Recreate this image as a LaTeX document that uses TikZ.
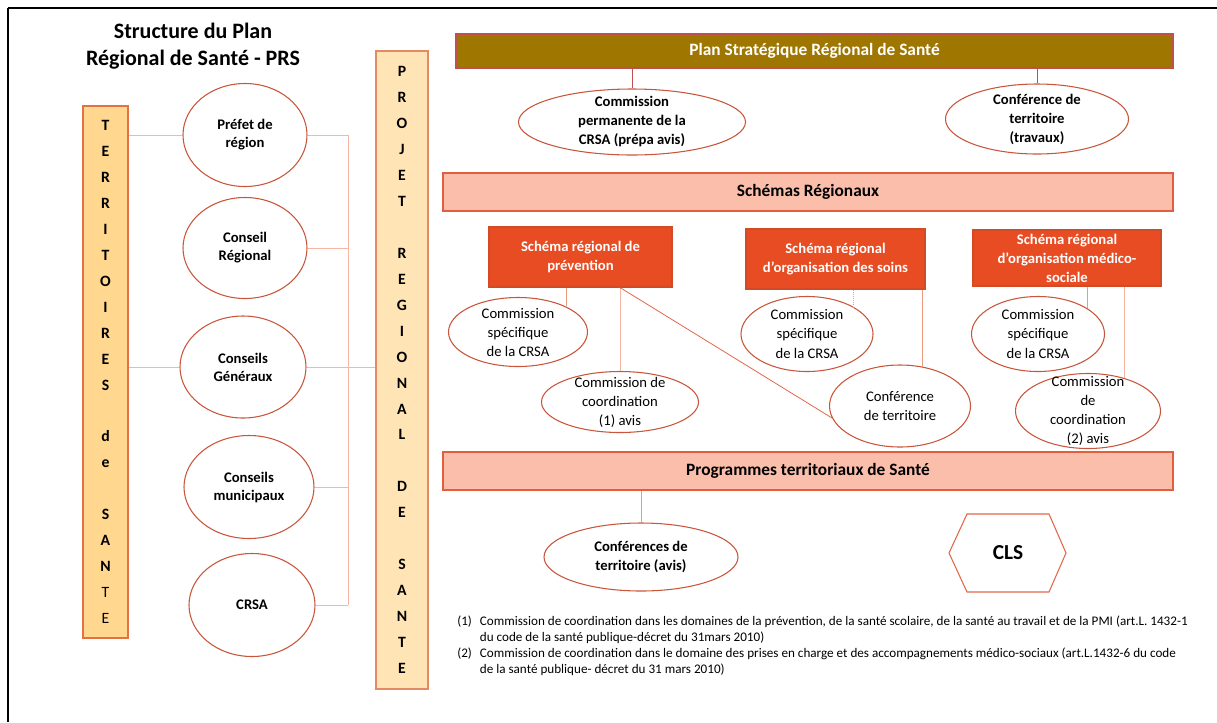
\documentclass[tikz,border=0pt]{standalone}
\usepackage{fontspec}
\setmainfont{Carlito}
\usepackage{tikz}
\usetikzlibrary{calc, shapes.geometric}

\definecolor{planfill}{HTML}{9F7700}
\definecolor{planedge}{HTML}{C0504D}
\definecolor{salmon}{HTML}{FBBEAB}
\definecolor{salmonedge}{HTML}{E0603E}
\definecolor{schemafill}{HTML}{E84C22}
\definecolor{schemaedge}{HTML}{D34A26}
\definecolor{ovaledge}{HTML}{C9553A}
\definecolor{linkpale}{HTML}{F5B6A6}
\definecolor{linksoft}{HTML}{EC9A80}
\definecolor{linkred}{HTML}{E0684A}
\definecolor{terrfill}{HTML}{FFD78F}
\definecolor{terredge}{HTML}{E0733F}
\definecolor{projfill}{HTML}{FFE5B6}
\definecolor{projedge}{HTML}{E38A62}

\begin{document}
\begin{tikzpicture}[x=0.75pt, y=-0.75pt,
    every node/.style={align=center, inner sep=2pt},
    txl/.style={font=\fontsize{11}{13.5}\selectfont\bfseries},
    txr/.style={font=\fontsize{11}{14.25}\selectfont\bfseries},
    txn/.style={font=\fontsize{11}{14.25}\selectfont},
    txb/.style={font=\fontsize{13}{15.5}\selectfont\bfseries},
    oval/.style 2 args={ellipse, draw=ovaledge, line width=0.8pt, inner sep=-8pt,
      minimum width=#1, minimum height=#2},
    column/.style={line width=1pt, font=\fontsize{11.8}{19.45}\selectfont\bfseries},
    band/.style={draw=salmonedge, line width=1pt, fill=salmon, txb,
      minimum width=547.5pt, minimum height=28.5pt},
    schema/.style={draw=schemaedge, line width=0.8pt, fill=schemafill, text=white, txr,
      inner sep=1pt, minimum height=45pt},
    link/.style={draw=linkpale, line width=0.6pt},
    hexline/.style={draw=linkred, line width=0.8pt},
  ]
  \useasboundingbox (0,0) rectangle (1217,722);
  \draw[line width=1pt] (1217,8) -- (8,8);
  \draw[line width=2pt] (8,7.5) -- (8,722);

  \node[font=\fontsize{16.5}{20.25}\selectfont\bfseries] (title) at (193,46)
    {Structure du Plan\\Régional de Santé - PRS};

  % colonnes
  \node[column, draw=terredge, fill=terrfill, minimum width=33.75pt, minimum height=399pt]
    (terr) at (105.5,372)
    {T\\E\\R\\R\\I\\T\\O\\I\\R\\E\\S\\~\\d\\e\\~\\S\\A\\N\\{\mdseries T}\\{\mdseries E}};
  \node[column, draw=projedge, fill=projfill, minimum width=39pt, minimum height=478.5pt]
    (proj) at (402,370)
    {P\\R\\O\\J\\E\\T\\~\\R\\E\\G\\I\\O\\N\\A\\L\\~\\D\\E\\~\\S\\A\\N\\T\\E};

  % acteurs
  \node[oval={93pt}{77.25pt}, txl] (pref) at (245,135) {Préfet de\\région};
  \node[oval={93pt}{75.75pt}, txl] (creg) at (245,248) {Conseil\\Régional};
  \node[oval={94.5pt}{76.5pt}, txl] (cgen) at (243,367) {Conseils\\Généraux};
  \node[oval={97.5pt}{77.25pt}, txl] (cmun) at (249,487) {Conseils\\municipaux};
  \node[oval={94.5pt}{77.25pt}, txl] (crsa) at (252,605) {CRSA};

  \coordinate (bus) at (348,0);
  \draw[link] (terr.east |- pref.west) -- (pref.west);
  \draw[link] (terr.east |- cgen.west) -- (cgen.west);
  \foreach \n in {pref,creg,cmun,crsa}
    \draw[link] (\n.east) -- (\n.east -| bus);
  \draw[link] (pref.east -| bus) -- (crsa.east -| bus);
  \draw[link] (cgen.east) -- (proj.west |- cgen.east);

  % plan strategique
  \node[draw=planedge, line width=1pt, fill=planfill, text=white, txb,
    minimum width=537.75pt, minimum height=25.5pt] (plan) at (814.5,51)
    {Plan Stratégique Régional de Santé};
  \node[oval={170.25pt}{49.5pt}, txr] (cperm) at (632,122)
    {Commission\\permanente de la\\CRSA (prépa avis)};
  \node[oval={137.25pt}{52.5pt}, txr] (ctrav) at (1037,119)
    {Conférence de\\territoire\\(travaux)};
  \draw[draw=planedge, line width=0.6pt] (cperm.north |- plan.south) -- (cperm.north);
  \draw[draw=planedge, line width=0.6pt] (ctrav.north |- plan.south) -- (ctrav.north);

  % schemas
  \node[band] (schreg) at (808,192) {Schémas Régionaux};
  \node[schema, minimum width=137.25pt] (prev) at (580.5,257)
    {Schéma régional de\\prévention};
  \node[schema, minimum width=134.25pt] (soins) at (835.5,259)
    {Schéma régional\\d’organisation des soins};
  \node[schema, minimum width=141pt, minimum height=42pt] (med) at (1067,258)
    {Schéma régional\\d’organisation médico-\\sociale};

  \node[oval={104.25pt}{51.75pt}, txn] (cs1) at (518,332) {Commission\\spécifique\\de la CRSA};
  \node[oval={117.75pt}{45.75pt}, txn] (ccoord1) at (620,402) {Commission de\\coordination\\(1) avis};
  \node[oval={99pt}{56.25pt}, txn] (cs2) at (807,334) {Commission\\spécifique\\de la CRSA};
  \node[oval={105.75pt}{61.5pt}, txn] (cterr) at (900,406) {Conférence\\de territoire};
  \node[oval={99.75pt}{56.25pt}, txn] (cs3) at (1038,334) {Commission\\spécifique\\de la CRSA};
  \node[oval={108.75pt}{56.25pt}, txn] (ccoord2) at (1088,411)
    {Commission\\de\\coordination\\(2) avis};

  \coordinate (pv) at (prev.south -| ccoord1.north);
  \draw[draw=linksoft, line width=0.6pt] (cs1.28 |- prev.south) -- (cs1.28);
  \draw[link] (pv) -- (ccoord1.north);
  \draw[draw=linkred, line width=0.6pt] (pv) -- (cterr.190);
  \draw[draw=linksoft, line width=0.6pt, densely dotted] (cs2.30 |- soins.south) -- (cs2.30);
  \draw[draw=linksoft, line width=0.6pt] (cterr.60 |- soins.south) -- (cterr.60);
  \draw[draw=linksoft, line width=0.6pt] (cs3.28 |- med.south) -- (cs3.28);
  \draw[link] (ccoord2.42 |- med.south) -- (ccoord2.42);

  % programmes
  \node[band] (prog) at (808,471) {Programmes territoriaux de Santé};
  \node[oval={145.5pt}{51pt}, txr] (cconf) at (641,557) {Conférences de\\territoire (avis)};
  \draw[draw=linksoft, line width=0.6pt] (cconf.north |- prog.south) -- (cconf.north);

  \node[font=\fontsize{16}{19}\selectfont\bfseries] (cls) at (1008,553) {CLS};
  \draw[hexline] (949,553) -- (967,514) -- (1049,514) -- (1066,553) -- (1049,592) -- (967,592) -- cycle;

  % notes
  \node[anchor=north west, inner sep=0pt, align=left, font=\fontsize{9.85}{12}\selectfont]
    (notes) at (457,614)
    {\begin{tabular}{@{}l@{\hspace{6pt}}l@{}}
      (1) & Commission de coordination dans les domaines de la prévention, de la santé scolaire, de la santé au travail et de la PMI (art.L. 1432-1\\
          & du code de la santé publique-décret du 31mars 2010)\\
      (2) & Commission de coordination dans le domaine des prises en charge et des accompagnements médico-sociaux (art.L.1432-6 du code\\
          & de la santé publique- décret du 31 mars 2010)
    \end{tabular}};
\end{tikzpicture}
\end{document}
